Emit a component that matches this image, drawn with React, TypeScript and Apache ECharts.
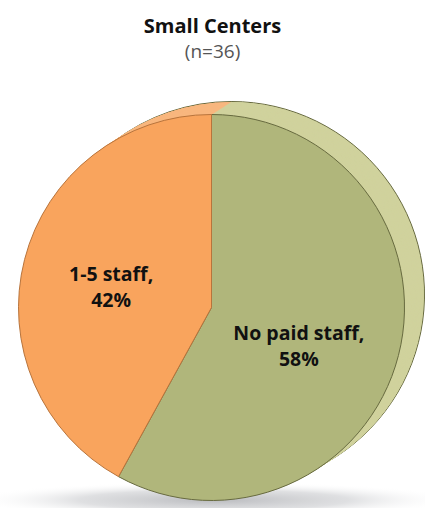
import React, { useEffect, useRef } from "react";
import * as echarts from "echarts";

const categories = ["No paid staff", "1-5 staff"];
const values = [58, 42];
const titleText = "Small Centers";
const subText = "(n=36)";

const frontColors = ["#B0B67B", "#F9A45D"];
const sideColors = ["#D0D29D", "#F8B77F"];
const borderColors = ["#676A3F", "#B8743C"];

const CX = 211.5;
const CY = 307.5;
const R = 193;
const DX = 20;
const DY = -13;
const STEPS = 24;

export default function App() {
  const ref = useRef<HTMLDivElement>(null);
  useEffect(() => {
    document.body.style.margin = "0";
    if (!ref.current) return;
    const chart = echarts.init(ref.current, undefined, { renderer: "svg" });
    const series: any[] = [];
    for (let k = STEPS; k >= 1; k--) {
      const t = k / STEPS;
      series.push({
        type: "pie",
        silent: true,
        z: 2,
        center: [CX + DX * t, CY + DY * t],
        radius: [0, R],
        startAngle: 90,
        clockwise: true,
        label: { show: false },
        labelLine: { show: false },
        emphasis: { disabled: true },
        data: categories.map((c, i) => ({
          name: c,
          value: values[i],
          itemStyle: {
            color: sideColors[i],
            borderColor: k === STEPS ? borderColors[0] : sideColors[i],
            borderWidth: k === STEPS ? 1 : 0,
          },
        })),
      });
    }
    const labelShift = [
      [-9, 13],
      [-4, 4],
    ];
    series.push({
      type: "pie",
      silent: true,
      z: 3,
      center: [CX, CY],
      radius: [0, R],
      startAngle: 90,
      clockwise: true,
      emphasis: { disabled: true },
      label: {
        show: true,
        position: "inside",
        formatter: "{b},\n{c}%",
        color: "#111",
        fontFamily: "Open Sans",
        fontWeight: "bold",
        fontSize: 19.5,
        lineHeight: 26,
        align: "center",
      },
      labelLine: { show: false },
      labelLayout: (p: any) => ({
        dx: labelShift[p.dataIndex][0],
        dy: labelShift[p.dataIndex][1],
      }),
      data: categories.map((c, i) => ({
        name: c,
        value: values[i],
        itemStyle: {
          color: frontColors[i],
          borderColor: borderColors[i === 0 ? 0 : 1],
          borderWidth: 1,
        },
      })),
    });
    chart.setOption({
      animation: false,
      backgroundColor: "#ffffff",
      title: {
        text: titleText,
        subtext: subText,
        left: "center",
        top: 8,
        itemGap: 3,
        textStyle: {
          fontFamily: "Open Sans",
          fontWeight: "bold",
          fontSize: 20,
          lineHeight: 24,
          color: "#111",
        },
        subtextStyle: {
          fontFamily: "Open Sans",
          fontSize: 19,
          lineHeight: 22,
          color: "#555",
        },
      },
      graphic: [
        {
          type: "ellipse",
          z: 0,
          silent: true,
          shape: { cx: 214, cy: 500, rx: 245, ry: 18 },
          style: {
            fill: {
              type: "radial",
              x: 0.5,
              y: 0.5,
              r: 0.5,
              colorStops: [
                { offset: 0, color: "rgba(140,142,148,0.6)" },
                { offset: 0.55, color: "rgba(175,177,182,0.4)" },
                { offset: 1, color: "rgba(255,255,255,0)" },
              ],
            },
          },
        },
      ],
      series,
    });
    return () => chart.dispose();
  }, []);
  return <div ref={ref} style={{ width: 425, height: 508 }} />;
}
